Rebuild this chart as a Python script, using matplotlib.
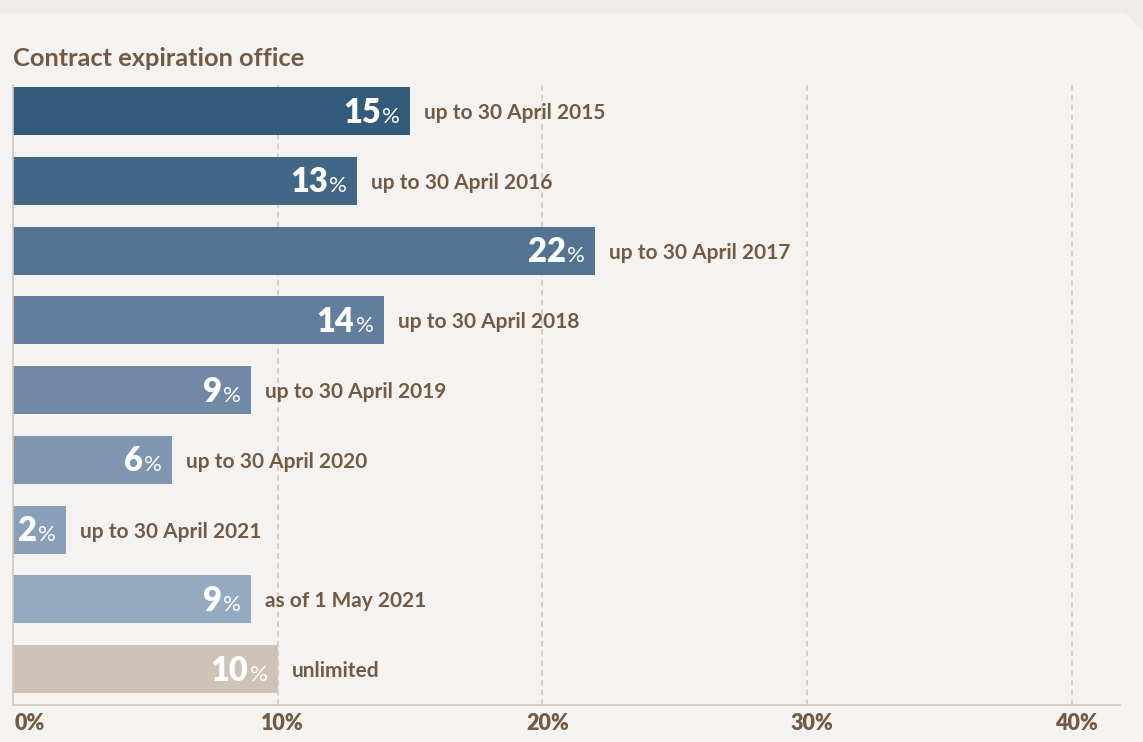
import matplotlib
matplotlib.use("Agg")
import matplotlib.pyplot as plt
from matplotlib.patches import Polygon
from matplotlib.transforms import ScaledTranslation

# ---- data ----
title = "Contract expiration office"
values = [15, 13, 22, 14, 9, 6, 2, 9, 10]
labels = ["up to 30 April 2015", "up to 30 April 2016", "up to 30 April 2017",
          "up to 30 April 2018", "up to 30 April 2019", "up to 30 April 2020",
          "up to 30 April 2021", "as of 1 May 2021", "unlimited"]
bar_colors = ["#325a7a", "#426685", "#527391", "#637e9c", "#7189a6",
              "#8095b0", "#8a9fba", "#95a9c0", "#cfc3b8"]
ticks = [0, 10, 20, 30, 40]
tick_labels = ["0%", "10%", "20%", "30%", "40%"]

BROWN = "#735a44"
FONT = ["Lato", "DejaVu Sans"]

W, H = 1143, 742
fig = plt.figure(figsize=(W / 100, H / 100), dpi=100, facecolor="#eeebe8")
panel = Polygon([(0, 0), (1, 0), (1, 1 - 31 / H), (1125 / W, 1 - 13 / H), (0, 1 - 13 / H)],
                closed=True, transform=fig.transFigure, facecolor="#f5f3f1",
                edgecolor="none", zorder=-10)
fig.patches.append(panel)

ax = fig.add_axes([13 / W, 1 - 705 / H, (1120 - 13) / W, (705 - 85) / H])
ax.set_facecolor("none")
ax.set_zorder(5)

ypos = list(range(len(values)))
ax.barh(ypos, values, height=0.688, color=bar_colors, zorder=2)
ax.set_ylim(8.516, -0.373)
ax.set_xlim(0, 41.82)

for t in ticks[1:]:
    ax.axvline(t, color="#d8ccc0", lw=1.3, ls=(0, (3.1, 2.3)), zorder=1)

for s in ["top", "right"]:
    ax.spines[s].set_visible(False)
for s in ["left", "bottom"]:
    ax.spines[s].set_color("#d3c6b9")
    ax.spines[s].set_linewidth(1.2)

ax.set_yticks([])
ax.set_xticks(ticks)
ax.set_xticklabels(tick_labels, fontfamily=FONT, fontweight="heavy",
                   fontsize=15.5, color=BROWN)
ax.tick_params(axis="x", length=0, pad=6)
shift = ScaledTranslation(5 / 100, 0, fig.dpi_scale_trans)
for k, tl in enumerate(ax.get_xticklabels()):
    tl.set_transform(tl.get_transform() + (ScaledTranslation(2 / 100, 0, fig.dpi_scale_trans) if k == 0 else shift))
ax.get_xticklabels()[0].set_horizontalalignment("left")

fig.text(13 / W, 1 - 66 / H, title, ha="left", va="baseline",
         fontfamily=FONT, fontweight="bold", fontsize=18.3, color=BROWN)

renderer = fig.canvas.get_renderer()
for i, (v, lbl) in enumerate(zip(values, labels)):
    pct = ax.annotate("%", (v, i), xytext=(-10, -11.5), textcoords="offset pixels",
                      ha="right", va="baseline", fontfamily=FONT, fontweight="normal",
                      fontsize=16, color="white", zorder=3)
    w = pct.get_window_extent(renderer).width
    ax.annotate(str(v), (v, i), xytext=(-10 - w - 1.5, -11.5), textcoords="offset pixels",
                ha="right", va="baseline", fontfamily=FONT, fontweight="heavy",
                fontsize=23.5, color="white", zorder=3)
    ax.annotate(lbl, (v, i), xytext=(14, 0), textcoords="offset pixels",
                ha="left", va="center_baseline", fontfamily=FONT, fontweight="bold",
                fontsize=15, color=BROWN, zorder=3)

fig.savefig("out.png", dpi=100, facecolor=fig.get_facecolor())
